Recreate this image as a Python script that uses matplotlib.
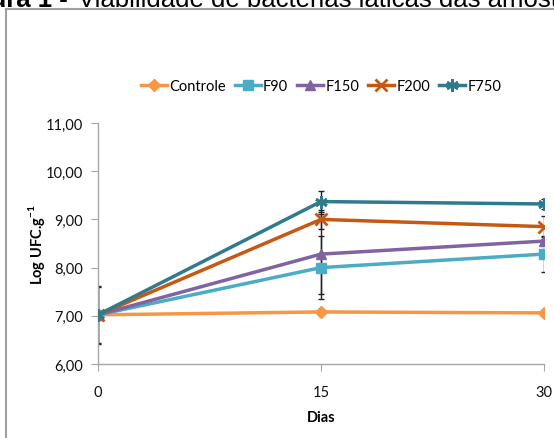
import matplotlib
matplotlib.use("Agg")
import matplotlib.pyplot as plt
from matplotlib.patches import Rectangle
from matplotlib.ticker import FuncFormatter

days = [0, 15, 30]
series_names = ["Controle", "F90", "F150", "F200", "F750"]
controle = [7.02, 7.08, 7.06]
f90 = [7.02, 8.00, 8.28]
f150 = [7.02, 8.28, 8.55]
f200 = [7.02, 9.00, 8.85]
f750 = [7.02, 9.37, 9.32]
err_controle = [0.05, 0.07, 0.05]
err_f90 = [0.05, 0.65, 0.37]
err_f150 = [0.05, 0.83, 0.05]
err_f200 = [0.58, 0.20, 0.22]
err_f750 = [0.60, 0.22, 0.10]
yticks = [6, 7, 8, 9, 10, 11]

values = [controle, f90, f150, f200, f750]
errors = [err_controle, err_f90, err_f150, err_f200, err_f750]
colors = ["#F79646", "#4BACC6", "#8064A2", "#C65911", "#2F7A8C"]
markers = ["D", "s", "^", "x", (6, 2, 0)]
msizes = [6, 7, 7, 8, 9]

plt.rcParams['font.family'] = ['Lato', 'DejaVu Sans']
plt.rcParams['mathtext.fontset'] = 'custom'
plt.rcParams['mathtext.bf'] = 'Lato:bold'
plt.rcParams['mathtext.rm'] = 'Lato'

fig = plt.figure(figsize=(5.54, 4.39), dpi=100)
ax = fig.add_axes([98/554, (439-365)/439, (544-98)/554, (365-124)/439])

# frame box
fig.patches.append(Rectangle((6/554, -0.1), 1.2, (439-10)/439 + 0.1,
                             transform=fig.transFigure, fill=False,
                             edgecolor="#A0A0A0", linewidth=1.5))

# error bars (drawn first, black)
for v, e in zip(values, errors):
    ax.errorbar(days, v, yerr=e, fmt='none', ecolor='#222222',
                elinewidth=1.0, capsize=2.5, capthick=1.0, zorder=2)

for name, v, c, m, ms in zip(series_names, values, colors, markers, msizes):
    mew = 2 if m in ("x", (6, 2, 0)) else 1
    ax.plot(days, v, color=c, linewidth=2.5, marker=m, markersize=ms,
            markeredgewidth=mew, markeredgecolor=c, markerfacecolor=c,
            label=name, zorder=3)

ax.set_xlim(0, 30)
ax.set_ylim(6, 11)
ax.set_xticks(days)
ax.set_yticks(yticks)
ax.yaxis.set_major_formatter(FuncFormatter(lambda y, p: f"{y:.2f}".replace('.', ',')))
for s in ["top", "right"]:
    ax.spines[s].set_visible(False)
for s in ["left", "bottom"]:
    ax.spines[s].set_color("#A6A6A6")
    ax.spines[s].set_linewidth(1.0)
ax.tick_params(axis='both', direction='out', length=5, color="#A6A6A6",
               labelsize=10.5, labelcolor="#111111", pad=6)
ax.tick_params(axis='x', pad=10)

ax.set_xlabel("Dias", fontsize=10.5, fontweight='bold', labelpad=8)
ax.set_ylabel("Log UFC.g$^{\\mathbf{-1}}$", fontsize=10.5, fontweight='bold', labelpad=-1)

leg = ax.legend(loc='lower center', bbox_to_anchor=(0.5, 1.1), ncol=5,
                frameon=False, fontsize=10.5, handlelength=1.8,
                handletextpad=0.15, columnspacing=0.6, borderaxespad=0)

# cut-off title at top
fig.text(68/554, 1.0 - 7/439, "Figura 1 -", fontsize=18.5, fontweight='bold',
         family='Liberation Sans', ha='right', va='baseline')
fig.text(78/554, 1.0 - 7/439, "Viabilidade de bactérias láticas das amostras",
         fontsize=18.5, family='Liberation Sans', ha='left', va='baseline')

fig.savefig("out.png", dpi=100)
